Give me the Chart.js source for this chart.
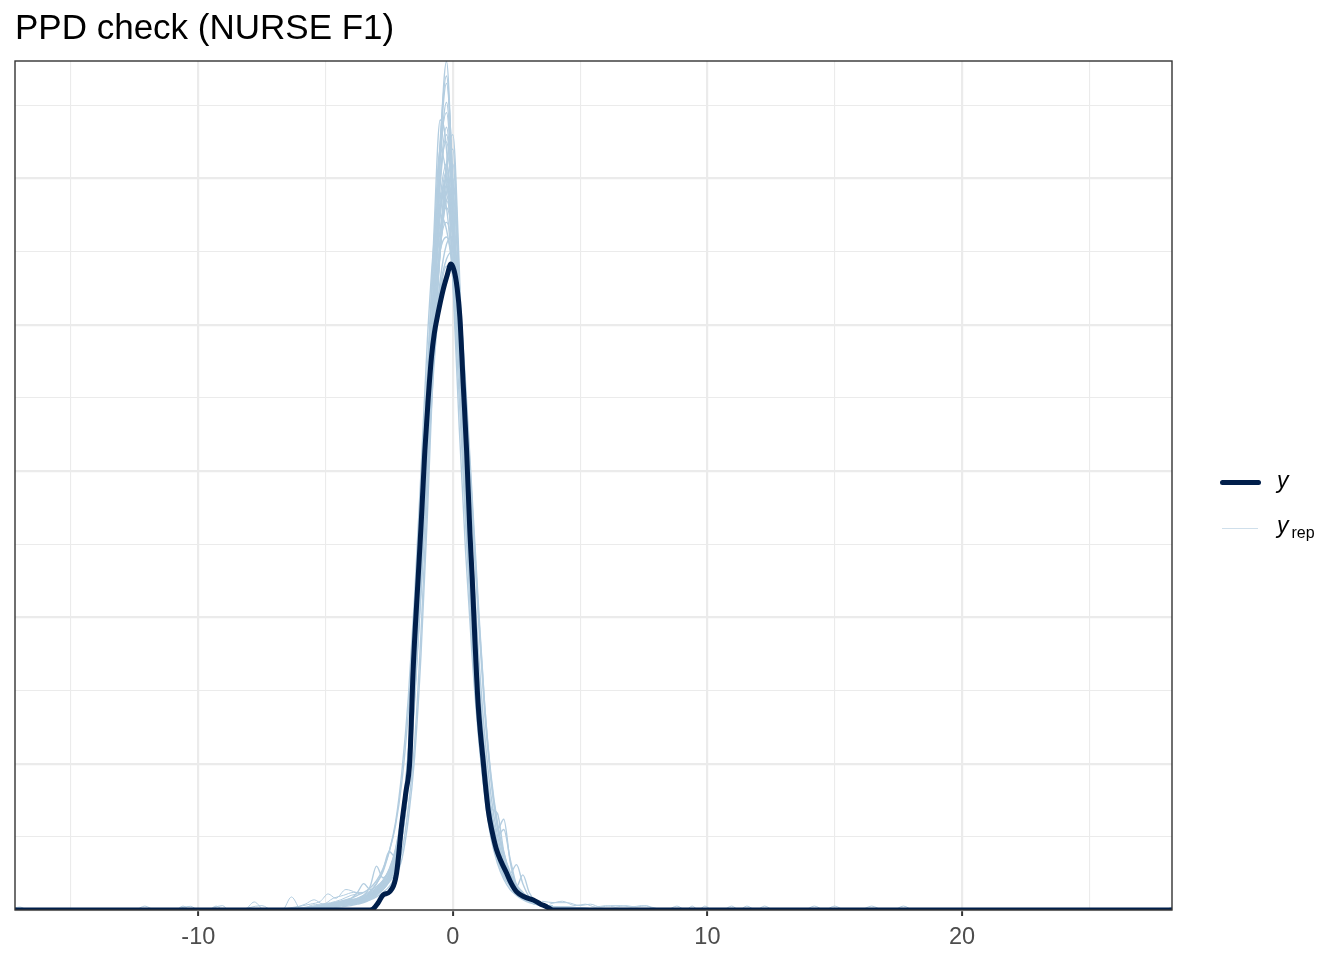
<!DOCTYPE html>
<html><head><meta charset="utf-8">
<script src="https://cdn.jsdelivr.net/npm/chart.js@4.4.0/dist/chart.umd.min.js"></script>
<style>
html,body{margin:0;padding:0;background:#fff;}
#wrap{position:relative;width:1344px;height:960px;overflow:hidden;}
#c{position:absolute;left:0;top:0;}
.lg{position:absolute;font-family:"Liberation Sans",Arial,sans-serif;color:#000;white-space:nowrap;}
</style></head><body>
<div id="wrap">
<canvas id="c" width="1344" height="960"></canvas>
<div class="lg" style="left:1220px;top:480px;width:41px;height:5px;background:#011f4b;border-radius:2.5px;"></div>
<div class="lg" style="left:1277px;top:469px;font-size:23px;line-height:23px;font-style:italic;">y</div>
<div class="lg" style="left:1222px;top:528px;width:36px;height:1px;background:#cfdfeb;"></div>
<div class="lg" style="left:1277px;top:514px;font-size:23px;line-height:23px;"><i>y</i><span style="font-size:16px;position:relative;top:5px;margin-left:3px;">rep</span></div>
</div>
<script>
// ---------- data ----------
const xMin = -17.2, xMax = 28.25, yMax = 0.5803;
const xTickLabels = [-10, 0, 10, 20];

// observed y density
const obsX = [-17.2, -3.25, -3.13, -2.94, -2.74, -2.48, -2.21, -2.02, -1.85, -1.69, -1.56, -1.36, -1.23, -1.10, -0.97, -0.84, -0.73, -0.58, -0.38, -0.22, -0.08, 0.05, 0.17, 0.275, 0.405, 0.54, 0.67, 0.76, 0.86, 0.99, 1.19, 1.39, 1.55, 1.72, 1.90, 2.11, 2.30, 2.50, 2.80, 3.16, 3.45, 3.68, 3.93, 28.25];
const obsY = [0, 0, 0.0007, 0.0048, 0.0103, 0.0125, 0.0253, 0.0569, 0.08, 0.1025, 0.164, 0.228, 0.269, 0.314, 0.349, 0.378, 0.394, 0.408, 0.424, 0.434, 0.4415, 0.437, 0.425, 0.4055, 0.36, 0.314, 0.258, 0.227, 0.187, 0.1415, 0.102, 0.068, 0.053, 0.041, 0.033, 0.0253, 0.018, 0.0125, 0.009, 0.0068, 0.004, 0.0023, 0, 0];

// replicated densities (core grid)
const repEdgeLeftX = [-17.2, -7.0];
const repEdgeRightX = [6.5, 28.25];
const repCoreX = [-4, -3.75, -3.5, -3.25, -3, -2.75, -2.5, -2.25, -2, -1.75, -1.5, -1.25, -1, -0.75, -0.5, -0.25, 0, 0.25, 0.5, 0.75, 1, 1.25, 1.5, 1.75, 2, 2.25, 2.5, 2.75, 3, 3.25, 3.5, 3.75, 4];
const rep01 = [0.004,0.005,0.006,0.008,0.011,0.015,0.021,0.032,0.052,0.09,0.15,0.23,0.32,0.42,0.52,0.58,0.49,0.38,0.29,0.21,0.145,0.095,0.06,0.04,0.027,0.018,0.012,0.009,0.006,0.005,0.004,0.003,0.002];
const rep02 = [0.005,0.006,0.007,0.009,0.012,0.016,0.023,0.035,0.056,0.095,0.16,0.24,0.33,0.425,0.51,0.552,0.49,0.39,0.30,0.215,0.15,0.098,0.062,0.041,0.027,0.018,0.013,0.009,0.007,0.005,0.004,0.003,0.002];
const rep03 = [0.004,0.005,0.007,0.009,0.012,0.016,0.022,0.033,0.054,0.09,0.15,0.225,0.31,0.39,0.455,0.505,0.52,0.43,0.32,0.23,0.16,0.104,0.066,0.043,0.028,0.019,0.013,0.009,0.007,0.005,0.004,0.003,0.002];
const rep04 = [0.006,0.007,0.009,0.011,0.014,0.019,0.027,0.04,0.064,0.108,0.175,0.26,0.35,0.45,0.52,0.50,0.44,0.37,0.28,0.2,0.14,0.092,0.059,0.039,0.026,0.017,0.012,0.008,0.006,0.004,0.003,0.002,0.002];
const rep05 = [0.006,0.007,0.009,0.011,0.014,0.019,0.027,0.041,0.065,0.105,0.17,0.25,0.335,0.415,0.465,0.48,0.46,0.41,0.34,0.27,0.2,0.135,0.088,0.056,0.036,0.024,0.016,0.011,0.008,0.006,0.004,0.003,0.002];
const rep06 = [0.003,0.004,0.005,0.007,0.01,0.014,0.02,0.03,0.05,0.088,0.15,0.23,0.315,0.39,0.45,0.49,0.50,0.42,0.31,0.22,0.15,0.098,0.063,0.041,0.027,0.018,0.012,0.009,0.006,0.005,0.004,0.003,0.002];
const rep07 = [0.005,0.006,0.008,0.01,0.013,0.017,0.024,0.036,0.058,0.097,0.16,0.24,0.33,0.42,0.495,0.53,0.48,0.39,0.29,0.205,0.14,0.09,0.058,0.055,0.062,0.033,0.016,0.01,0.007,0.005,0.004,0.003,0.002];
const rep08 = [0.007,0.008,0.01,0.016,0.03,0.022,0.027,0.04,0.064,0.105,0.17,0.25,0.335,0.41,0.45,0.46,0.44,0.39,0.305,0.225,0.155,0.1,0.065,0.043,0.029,0.019,0.013,0.009,0.006,0.005,0.004,0.003,0.002];
const rep09 = [0.008,0.01,0.012,0.015,0.02,0.028,0.04,0.06,0.095,0.145,0.215,0.30,0.39,0.455,0.49,0.48,0.43,0.35,0.265,0.19,0.13,0.086,0.056,0.037,0.025,0.017,0.012,0.008,0.006,0.004,0.003,0.002,0.001];
const rep10 = [0.004,0.005,0.006,0.008,0.011,0.015,0.021,0.031,0.051,0.088,0.148,0.225,0.31,0.385,0.45,0.495,0.51,0.43,0.325,0.235,0.165,0.108,0.068,0.044,0.029,0.019,0.013,0.009,0.007,0.005,0.004,0.003,0.002];
const rep11 = [0.006,0.007,0.009,0.012,0.015,0.02,0.028,0.042,0.066,0.108,0.17,0.25,0.335,0.405,0.455,0.47,0.45,0.39,0.31,0.23,0.16,0.106,0.07,0.047,0.032,0.022,0.015,0.011,0.008,0.006,0.004,0.003,0.002];
const rep12 = [0.005,0.006,0.008,0.01,0.013,0.018,0.025,0.037,0.06,0.102,0.168,0.255,0.355,0.46,0.54,0.52,0.43,0.33,0.245,0.175,0.12,0.08,0.053,0.035,0.023,0.016,0.011,0.008,0.006,0.004,0.003,0.002,0.002];
const rep13 = [0.005,0.006,0.008,0.01,0.013,0.017,0.023,0.035,0.057,0.095,0.155,0.23,0.31,0.38,0.425,0.445,0.45,0.42,0.36,0.285,0.21,0.14,0.09,0.058,0.038,0.025,0.017,0.012,0.008,0.006,0.004,0.003,0.002];
const rep14 = [0.004,0.005,0.006,0.008,0.011,0.015,0.022,0.033,0.054,0.093,0.155,0.235,0.32,0.41,0.475,0.50,0.465,0.39,0.295,0.21,0.145,0.093,0.058,0.037,0.027,0.025,0.031,0.018,0.009,0.006,0.004,0.003,0.002];
const rep15 = [0.004,0.005,0.006,0.008,0.011,0.014,0.02,0.03,0.05,0.087,0.148,0.228,0.32,0.43,0.52,0.565,0.50,0.385,0.285,0.2,0.138,0.09,0.058,0.038,0.025,0.017,0.012,0.008,0.006,0.005,0.004,0.003,0.002];
const rep16 = [0.004,0.005,0.006,0.007,0.009,0.012,0.016,0.023,0.035,0.062,0.105,0.175,0.27,0.38,0.46,0.495,0.46,0.37,0.27,0.185,0.122,0.078,0.049,0.032,0.021,0.014,0.01,0.007,0.005,0.004,0.003,0.002,0.001];
const rep17 = [0.005,0.006,0.008,0.012,0.018,0.027,0.04,0.036,0.055,0.095,0.158,0.238,0.325,0.41,0.478,0.505,0.47,0.395,0.3,0.215,0.148,0.095,0.061,0.04,0.026,0.018,0.012,0.009,0.006,0.005,0.004,0.003,0.002];
const rep18 = [0.004,0.005,0.007,0.009,0.012,0.016,0.022,0.033,0.054,0.09,0.148,0.22,0.30,0.37,0.42,0.44,0.435,0.40,0.33,0.25,0.178,0.12,0.078,0.051,0.034,0.023,0.016,0.011,0.008,0.006,0.004,0.003,0.002];
const rep19 = [0.005,0.006,0.007,0.009,0.012,0.016,0.022,0.034,0.055,0.094,0.156,0.236,0.325,0.42,0.5,0.535,0.48,0.385,0.295,0.21,0.145,0.095,0.06,0.04,0.027,0.018,0.013,0.009,0.006,0.005,0.004,0.003,0.002];
const rep20 = [0.004,0.005,0.006,0.008,0.011,0.015,0.021,0.031,0.05,0.087,0.146,0.22,0.305,0.385,0.45,0.485,0.49,0.42,0.315,0.225,0.155,0.1,0.07,0.066,0.04,0.024,0.015,0.01,0.007,0.005,0.004,0.003,0.002];
const rep21 = [0.005,0.006,0.008,0.01,0.013,0.017,0.024,0.036,0.058,0.1,0.165,0.245,0.335,0.42,0.485,0.51,0.47,0.385,0.29,0.21,0.145,0.094,0.06,0.04,0.027,0.018,0.012,0.009,0.006,0.005,0.004,0.003,0.002];
const rep22 = [0.007,0.008,0.01,0.013,0.018,0.026,0.04,0.058,0.088,0.135,0.2,0.285,0.37,0.445,0.475,0.465,0.435,0.37,0.285,0.205,0.14,0.092,0.06,0.04,0.027,0.018,0.012,0.009,0.006,0.004,0.003,0.002,0.002];
const rep23 = [0.004,0.005,0.006,0.008,0.011,0.015,0.02,0.03,0.049,0.085,0.143,0.218,0.3,0.38,0.45,0.51,0.53,0.44,0.32,0.225,0.155,0.1,0.064,0.042,0.028,0.019,0.013,0.009,0.006,0.005,0.004,0.003,0.002];
const rep24 = [0.008,0.012,0.018,0.014,0.016,0.02,0.027,0.038,0.06,0.1,0.163,0.243,0.33,0.415,0.478,0.50,0.465,0.385,0.29,0.208,0.143,0.092,0.059,0.039,0.026,0.017,0.012,0.009,0.006,0.005,0.004,0.003,0.002];
const rep25 = [0.004,0.005,0.006,0.008,0.011,0.015,0.021,0.032,0.053,0.091,0.153,0.235,0.33,0.43,0.515,0.545,0.485,0.38,0.285,0.205,0.14,0.091,0.058,0.038,0.026,0.018,0.012,0.009,0.006,0.005,0.004,0.003,0.002];
const rep26 = [0.005,0.006,0.008,0.01,0.013,0.017,0.023,0.034,0.056,0.093,0.152,0.228,0.31,0.385,0.43,0.455,0.46,0.425,0.355,0.28,0.205,0.14,0.092,0.06,0.039,0.026,0.017,0.012,0.008,0.006,0.004,0.003,0.002];
const rep27 = [0.005,0.006,0.007,0.009,0.012,0.016,0.023,0.035,0.057,0.097,0.162,0.243,0.333,0.425,0.5,0.525,0.475,0.385,0.29,0.205,0.14,0.09,0.057,0.037,0.025,0.018,0.016,0.024,0.012,0.006,0.004,0.003,0.002];
const rep28 = [0.005,0.006,0.007,0.009,0.011,0.014,0.019,0.026,0.04,0.07,0.115,0.19,0.285,0.39,0.455,0.485,0.458,0.39,0.3,0.218,0.152,0.1,0.064,0.042,0.028,0.019,0.013,0.009,0.007,0.005,0.004,0.003,0.002];
const rep29 = [0.004,0.005,0.006,0.008,0.011,0.014,0.02,0.031,0.051,0.088,0.15,0.232,0.325,0.43,0.525,0.57,0.495,0.38,0.28,0.2,0.138,0.09,0.057,0.037,0.025,0.017,0.012,0.008,0.006,0.005,0.004,0.003,0.002];
const rep30 = [0.005,0.006,0.008,0.01,0.013,0.017,0.024,0.036,0.058,0.097,0.16,0.24,0.33,0.415,0.475,0.495,0.46,0.38,0.285,0.2,0.137,0.088,0.058,0.05,0.055,0.035,0.017,0.01,0.007,0.005,0.004,0.003,0.002];
const repSeries = [rep01,rep02,rep03,rep04,rep05,rep06,rep07,rep08,rep09,rep10,rep11,rep12,rep13,rep14,rep15,rep16,rep17,rep18,rep19,rep20,rep21,rep22,rep23,rep24,rep25,rep26,rep27,rep28,rep29,rep30];

// replicated densities: far-tail wiggles
const tailAX = [-17.2, -17.0, -16.7, -12.5, -12.1, -11.7, -10.9, -10.6, -10.3, -9.6, -9.3, -9.0, -8.2, -7.8, -7.4, -6.7, -6.34, -5.95, -5.6, -5.2, -4.8, -4.4, -4.0, -3.5];
const tailAY = [0.0015, 0.002, 0, 0, 0.0027, 0, 0, 0.0027, 0, 0, 0.0027, 0, 0, 0.0055, 0, 0, 0.0089, 0, 0.003, 0.004, 0.005, 0.007, 0.01, 0.012];
const tailBX = [-11.0, -10.3, -10.0, -9.7, -9.05, -8.8, -8.55, -7.5, -7.1, -6.7, -5.8, -5.45, -5.1, -4.7, -4.3, -3.9, -3.5];
const tailBY = [0, 0.0025, 0, 0, 0.003, 0, 0, 0.003, 0, 0, 0.004, 0.007, 0.004, 0.008, 0.01, 0.012, 0.012];
const tailCX = [-7.0, -6.2, -5.6, -5.2, -4.9, -4.6, -4.2, -3.8];
const tailCY = [0, 0.002, 0.004, 0.006, 0.011, 0.008, 0.014, 0.012];
const tailDX = [3.8, 4.3, 4.8, 5.2, 5.6, 6.0, 6.4, 6.8, 7.2, 7.6, 8.0, 8.4, 8.8, 9.15, 9.4, 9.65, 9.9, 10.2, 10.6, 10.95, 11.25, 11.55, 11.9, 12.25, 12.6, 13.8, 14.2, 14.6, 15.0, 15.4, 16.0, 16.45, 16.9, 17.3, 17.7, 18.1, 27.9, 28.25];
const tailDY = [0.004, 0.006, 0.003, 0.004, 0.002, 0.003, 0.002, 0.003, 0.002, 0.003, 0, 0, 0.0027, 0, 0.0027, 0, 0.0027, 0, 0, 0.0027, 0, 0.0027, 0, 0.0027, 0, 0, 0.0027, 0, 0.0027, 0, 0, 0.0027, 0, 0, 0.0027, 0, 0, 0.002];
const tailEX = [3.5, 4.0, 4.5, 5.0, 5.4, 5.8, 6.2, 6.6, 7.0, 7.4, 7.8, 8.2];
const tailEY = [0.006, 0.005, 0.005, 0.003, 0.004, 0.002, 0.003, 0.003, 0.002, 0.003, 0.002, 0];

// ---------- build ----------
const REP_COLOR = '#b3cde0', OBS_COLOR = '#011f4b';
const pts = (xs, ys) => xs.map((x, i) => ({x, y: ys[i]}));
const zeros = xs => xs.map(() => 0);

const datasets = [];
datasets.push({label: 'y', data: pts(obsX, obsY), borderColor: OBS_COLOR, borderWidth: 5,
  borderCapStyle: 'round', borderJoinStyle: 'round'});
repSeries.forEach((s, k) => {
  datasets.push({label: 'yrep' + (k + 1),
    data: pts(repEdgeLeftX, zeros(repEdgeLeftX)).concat(pts(repCoreX, s), pts(repEdgeRightX, zeros(repEdgeRightX))),
    borderColor: REP_COLOR, borderWidth: 1.4});
});
[[tailAX, tailAY], [tailBX, tailBY], [tailCX, tailCY], [tailDX, tailDY], [tailEX, tailEY]].forEach(([xs, ys], k) => {
  datasets.push({label: 'tail' + k, data: pts(xs, ys), borderColor: REP_COLOR, borderWidth: 1});
});

const panelBorder = {
  id: 'panelBorder',
  afterDatasetsDraw(chart) {
    const a = chart.chartArea, ctx = chart.ctx;
    ctx.save();
    ctx.strokeStyle = '#333333';
    ctx.lineWidth = 1.4;
    ctx.strokeRect(a.left, a.top, a.right - a.left, a.bottom - a.top);
    ctx.restore();
  }
};

const isMajor = (v, step) => Math.abs(v / step - Math.round(v / step)) < 1e-6;

new Chart(document.getElementById('c'), {
  type: 'scatter',
  data: {datasets},
  plugins: [panelBorder],
  options: {
    responsive: false,
    animation: false,
    events: [],
    layout: {padding: {left: 15, right: 172, top: 0, bottom: 0}},
    elements: {point: {radius: 0}, line: {cubicInterpolationMode: 'monotone', fill: false}},
    datasets: {scatter: {showLine: true, pointRadius: 0}},
    plugins: {
      legend: {display: false},
      tooltip: {enabled: false},
      title: {display: true, text: 'PPD check (NURSE F1)', align: 'start', color: '#000',
        font: {family: '"Liberation Sans", Arial, sans-serif', size: 35, weight: 'normal', lineHeight: 1.2},
        padding: {top: 8.5, bottom: 10.5}}
    },
    scales: {
      x: {
        type: 'linear', min: xMin, max: xMax,
        afterFit(scale) { scale.height = 50; },
        border: {display: false},
        grid: {
          color: '#ebebeb',
          lineWidth: ctx => isMajor(ctx.tick.value, 10) ? 2.2 : 1.1,
          tickColor: ctx => isMajor(ctx.tick.value, 10) ? '#333333' : 'rgba(0,0,0,0)',
          tickWidth: 2, tickLength: 6, drawOnChartArea: true
        },
        ticks: {
          stepSize: 5, includeBounds: false, autoSkip: false, maxRotation: 0, padding: 7,
          color: '#4d4d4d', font: {family: '"Liberation Sans", Arial, sans-serif', size: 23.5},
          callback: v => xTickLabels.includes(Math.round(v)) && isMajor(v, 10) ? String(Math.round(v)) : ''
        }
      },
      y: {
        type: 'linear', min: 0, max: yMax,
        afterFit(scale) { scale.width = 0; },
        border: {display: false},
        grid: {color: '#ebebeb', lineWidth: ctx => isMajor(ctx.tick.value, 0.1) ? 2.2 : 1.1, drawTicks: false},
        ticks: {display: false, stepSize: 0.05, includeBounds: false}
      }
    }
  }
});
</script>
</body></html>
